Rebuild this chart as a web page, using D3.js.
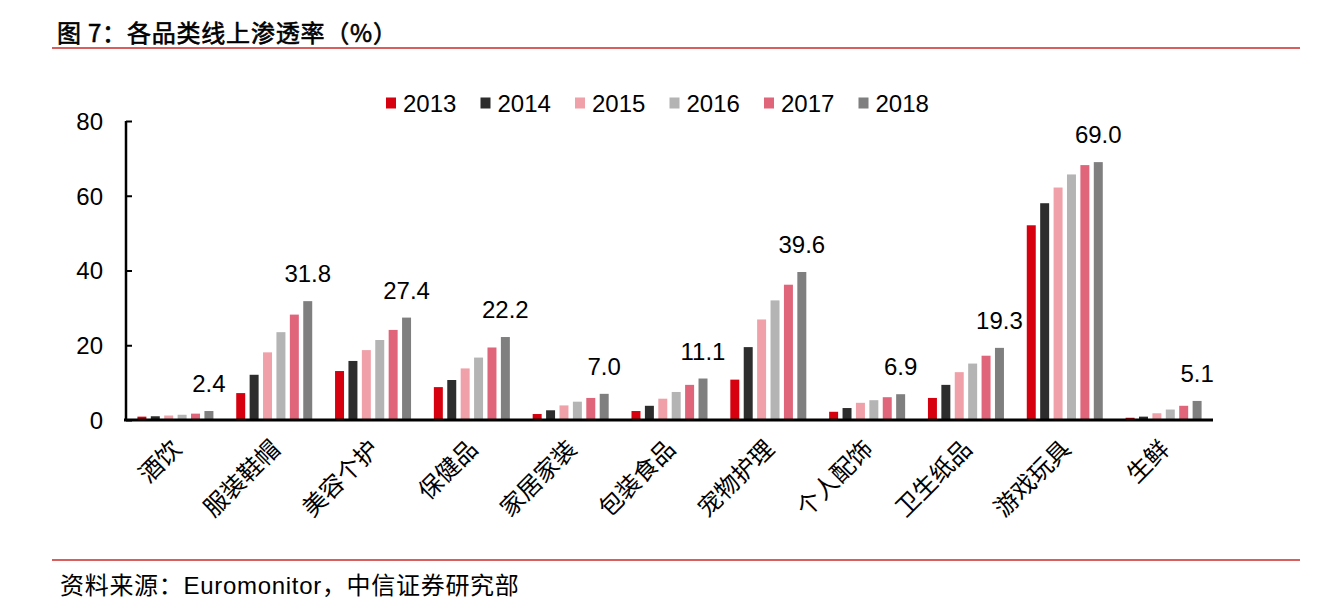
<meta charset="utf-8">
<script src="https://d3js.org/d3.v7.js"></script>
<style>
body { margin: 0; background-color: white; }
svg { font-family: "Liberation Sans", Arial, "Noto Sans CJK SC", sans-serif; }
</style>
<html>
    <body>
        <div id="chart"></div>
        <script>
            // chart values
            var categories = ["酒饮", "服装鞋帽", "美容个护", "保健品", "家居家装", "包装食品", "宠物护理", "个人配饰", "卫生纸品", "游戏玩具", "生鲜"];
            var years = ["2013", "2014", "2015", "2016", "2017", "2018"];
            var v2013 = [0.9, 7.2, 13.1, 8.8, 1.6, 2.4, 10.8, 2.2, 5.9, 52.1, 0.6];
            var v2014 = [1.0, 12.1, 15.8, 10.7, 2.6, 3.8, 19.5, 3.2, 9.4, 58.0, 0.9];
            var v2015 = [1.2, 18.1, 18.7, 13.8, 3.9, 5.7, 26.9, 4.6, 12.8, 62.2, 1.8];
            var v2016 = [1.4, 23.5, 21.4, 16.7, 4.9, 7.5, 32.0, 5.3, 15.1, 65.7, 2.8];
            var v2017 = [1.7, 28.2, 24.1, 19.4, 5.9, 9.4, 36.2, 6.1, 17.2, 68.2, 3.8];
            var v2018 = [2.4, 31.8, 27.4, 22.2, 7.0, 11.1, 39.6, 6.9, 19.3, 69.0, 5.1];
            var yTicks = [0, 20, 40, 60, 80];
            var colors = ["#D7000F", "#2D2D2D", "#F0A0A8", "#B4B4B4", "#E0647A", "#7F7F7F"];

            var series = [v2013, v2014, v2015, v2016, v2017, v2018];

            var svg = d3.select("#chart")
                .append("svg")
                    .attr("width", 1336)
                    .attr("height", 610);

            // title + rules
            svg.append("text")
                .attr("x", 57)
                .attr("y", 31)
                .attr("dominant-baseline", "central")
                .style("font-size", "24px")
                .style("letter-spacing", "0.8px")
                .style("stroke", "black")
                .style("stroke-width", "0.6px")
                .style("font-family", "'Noto Sans CJK SC', sans-serif")
                .text("图 7：各品类线上渗透率（%）");

            svg.append("line")
                .attr("x1", 52).attr("x2", 1300)
                .attr("y1", 48).attr("y2", 48)
                .attr("stroke", "#CC2A2A")
                .attr("stroke-width", 1.5);

            svg.append("line")
                .attr("x1", 52).attr("x2", 1300)
                .attr("y1", 560).attr("y2", 560)
                .attr("stroke", "#CC2A2A")
                .attr("stroke-width", 1.5);

            svg.append("text")
                .attr("x", 60)
                .attr("y", 585)
                .attr("dominant-baseline", "central")
                .style("font-size", "24px")
                .style("letter-spacing", "0.7px")
                .text("资料来源：Euromonitor，中信证券研究部");

            // scales
            var x0 = d3.scaleBand()
                .domain(categories)
                .range([126, 1213]);

            var x1 = d3.scaleBand()
                .domain(years)
                .range([x0.bandwidth() / 2 - 38, x0.bandwidth() / 2 + 38])
                .paddingInner(0.33);

            var y = d3.scaleLinear()
                .domain([0, 80])
                .range([420, 121]);

            // bars
            var groups = svg.append("g")
                .selectAll("g")
                .data(categories)
                .enter()
                .append("g")
                    .attr("transform", function (d) { return "translate(" + x0(d) + ",0)"; });

            groups.selectAll("rect")
                .data(function (d, i) {
                    return years.map(function (yr, j) { return {year: yr, value: series[j][i], color: colors[j]}; });
                })
                .enter()
                .append("rect")
                    .attr("x", function (d) { return x1(d.year); })
                    .attr("y", function (d) { return y(d.value); })
                    .attr("width", x1.bandwidth())
                    .attr("height", function (d) { return y(0) - y(d.value); })
                    .attr("fill", function (d) { return d.color; });

            // labels above the 2018 bar
            svg.append("g")
                .selectAll("text")
                .data(categories)
                .enter()
                .append("text")
                    .attr("x", function (d) { return x0(d) + x1("2018") + x1.bandwidth() / 2; })
                    .attr("y", function (d, i) { return y(v2018[i]) - 19; })
                    .attr("text-anchor", "middle")
                    .style("font-size", "24px")
                    .text(function (d, i) { return v2018[i].toFixed(1); });

            // y axis
            var yAxis = svg.append("g")
                .attr("transform", "translate(126,0)")
                .call(d3.axisRight(y).tickValues(yTicks).tickSize(6).tickFormat(d3.format("d")));
            yAxis.select(".domain")
                .attr("d", "M0," + y(80) + "V" + y(0))
                .attr("stroke", "black")
                .attr("stroke-width", 2.5);
            yAxis.selectAll(".tick line")
                .attr("stroke", "black")
                .attr("stroke-width", 2);
            yAxis.selectAll(".tick text")
                .attr("x", -23)
                .attr("dy", "0.35em")
                .attr("text-anchor", "end")
                .style("font-size", "24px")
                .style("font-family", "'Liberation Sans', Arial, sans-serif")
                .attr("fill", "black");

            // x axis
            var xAxis = svg.append("g")
                .attr("transform", "translate(0," + y(0) + ")")
                .call(d3.axisBottom(x0).tickSize(0).tickFormat(""));
            xAxis.select(".domain")
                .attr("d", "M124,0H1213")
                .attr("stroke", "black")
                .attr("stroke-width", 3);

            svg.append("g")
                .selectAll("text")
                .data(categories)
                .enter()
                .append("text")
                    .attr("transform", function (d) {
                        return "translate(" + (x0(d) + x0.bandwidth() / 2) + ",443) rotate(-45)";
                    })
                    .attr("text-anchor", "end")
                    .attr("dominant-baseline", "central")
                    .style("font-size", "24px")
                    .style("font-family", "'Noto Sans CJK SC', sans-serif")
                    .text(function (d) { return d; });

            // legend
            var legend = svg.append("g")
                .selectAll("g")
                .data(years)
                .enter()
                .append("g")
                    .attr("transform", function (d, i) { return "translate(" + (386 + i * 94.5) + ",103)"; });
            legend.append("rect")
                .attr("x", 0)
                .attr("y", -5.5)
                .attr("width", 10)
                .attr("height", 11)
                .attr("fill", function (d, i) { return colors[i]; });
            legend.append("text")
                .attr("x", 17)
                .attr("y", 0)
                .attr("dominant-baseline", "central")
                .style("font-size", "24px")
                .text(function (d) { return d; });
        </script>
    </body>
</html>
